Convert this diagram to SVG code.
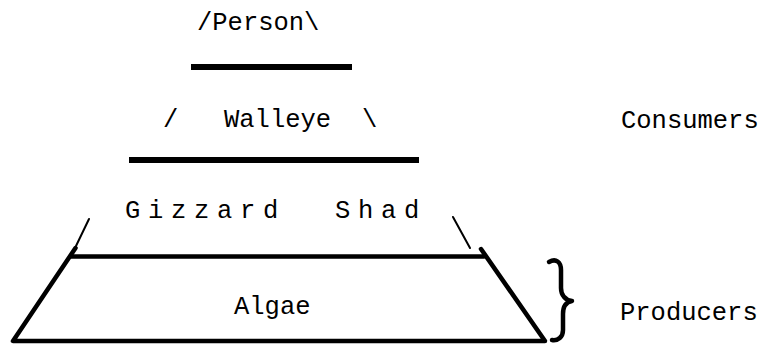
<svg xmlns="http://www.w3.org/2000/svg" width="763" height="345" viewBox="0 0 763 345">
<style>
  text { font-family: "Liberation Mono", "Courier New", monospace; font-size: 25.5px; fill: #000; }
  .bar { fill: #000; }
  .thin { stroke: #000; stroke-width: 2; fill: none; stroke-linecap: round; }
  .thick { stroke: #000; stroke-width: 4.5; fill: none; stroke-linecap: round; stroke-linejoin: round; }
  .spaced { letter-spacing: 7.7px; }
</style>
<rect width="763" height="345" fill="#fff"/>
<g id="person">
  <text x="197" y="30">/Person\</text>
  <rect class="bar" x="191" y="64" width="161" height="6"/>
</g>
<g id="walleye">
  <text y="127"><tspan x="163">/</tspan><tspan x="224">Walleye</tspan><tspan x="362">\</tspan></text>
  <rect class="bar" x="129" y="157" width="290" height="6"/>
</g>
<g id="gizzard-shad">
  <text class="spaced" y="218"><tspan x="125">Gizzard</tspan><tspan x="335">Shad</tspan></text>
  <line class="thin" x1="89" y1="219" x2="76" y2="246"/>
  <line class="thin" x1="453" y1="217" x2="470" y2="248"/>
</g>
<g id="algae">
  <polyline class="thick" points="75.5,248 13,341 545,341 481,249"/>
  <line class="thick" x1="71" y1="256.5" x2="484" y2="256.5"/>
  <text x="234" y="314">Algae</text>
</g>
<g id="labels">
  <text x="621" y="128">Consumers</text>
  <path class="thick" d="M549,262 C556,258 561,262 561,270 L561,288 C561,296 566,300 572,301 C566,302 563,306 563,314 L563,330 C563,337 558,341 552,340"/>
  <text x="620" y="320">Producers</text>
</g>
</svg>
